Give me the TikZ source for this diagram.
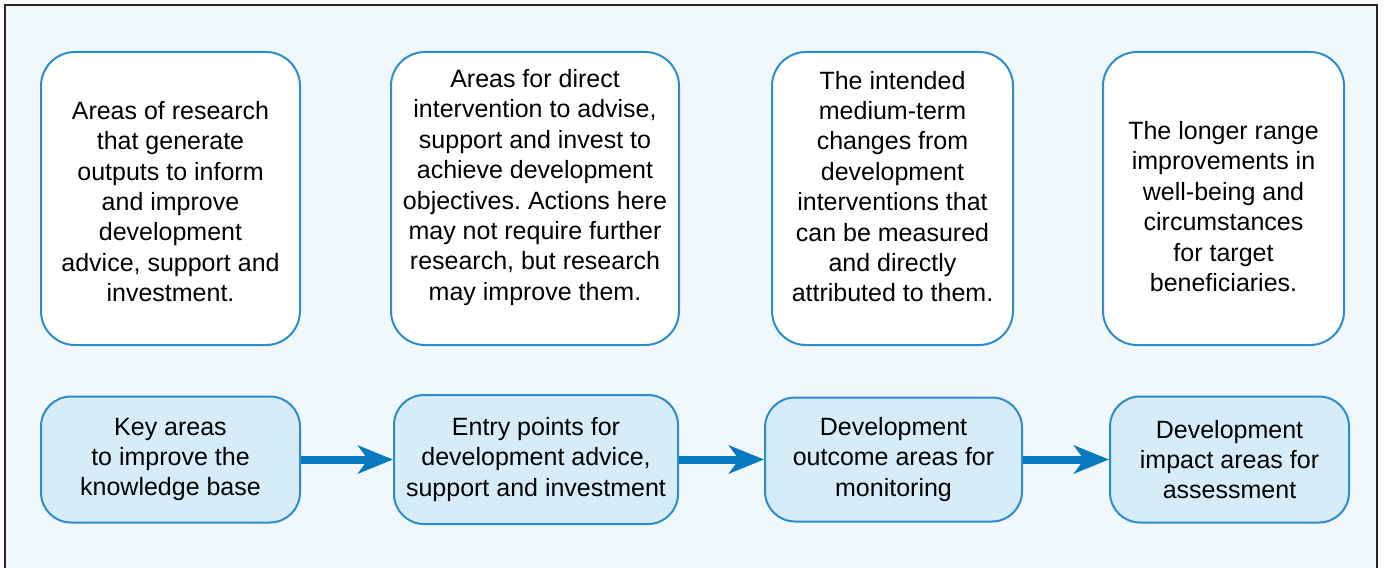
\documentclass[tikz,border=0pt]{standalone}
\usepackage{fontspec}
\setmainfont{Liberation Sans}
\frenchspacing
\usetikzlibrary{arrows.meta, positioning}

\definecolor{framebg}{RGB}{241,248,252}
\definecolor{boxline}{RGB}{44,141,206}
\definecolor{boxfill}{RGB}{214,236,249}
\definecolor{flowblue}{RGB}{6,122,191}

\begin{document}
\begin{tikzpicture}[
            x = 0.5pt, y = -0.5pt,
            > = {Stealth[length=17.5pt, width=14pt, inset=5pt]},
            node distance = 45pt,
            font = \fontsize{12.5}{15.2}\selectfont
        ]

        \tikzstyle{topbox}=[
            draw = boxline,
            line width = 1pt,
            fill = white,
            rounded corners = 17pt,
            align = center,
            inner sep = 0pt,
            minimum height = 146.5pt
        ]
        \tikzstyle{blurb}=[align = center, inner sep = 0pt]
        \tikzstyle{flowbox}=[
            topbox,
            fill = boxfill,
            rounded corners = 15pt,
            minimum height = 63pt
        ]
        \tikzstyle{flow}=[->, draw = flowblue, line width = 4pt]

        % frame
        \useasboundingbox (0,0) rectangle (1385,567);
        \fill[framebg] (5,5) rectangle (1377,590);
        \draw[line width=0.7pt, black!85] (5,590) -- (5,5) -- (1377,5) -- (1377,590);

        % upper row
        \node[topbox, minimum width=129.5pt,
            label={[blurb, yshift=-1.5pt]center:{Areas of research\\that generate\\outputs to inform\\and improve\\development\\advice, support and\\investment.}}]
            (research) at (170.5,198.5) {};
        \node[topbox, minimum width=144pt,
            label={[blurb, yshift=5.5pt]center:{Areas for direct\\intervention to advise,\\support and invest to\\achieve development\\objectives. Actions here\\may not require further\\research, but research\\may improve them.}}]
            (direct) [right=44.5pt of research] {};
        \node[topbox, minimum width=120.5pt,
            label={[blurb, yshift=6pt]center:{The intended\\medium-term\\changes from\\development\\interventions that\\can be measured\\and directly\\attributed to them.}}]
            (medium) [right=45.5pt of direct] {};
        \node[topbox, minimum width=120.5pt,
            label={[blurb, yshift=-4pt]center:{The longer range\\improvements in\\well-being and\\circumstances\\for target\\beneficiaries.}}]
            (longer) [right=44pt of medium] {};

        % lower row
        \node[flowbox, minimum width=129.5pt] (key) at (170.5,459.5) {Key areas\\to improve the\\knowledge base};
        \node[flowbox, minimum width=142pt, minimum height=64.5pt] (entry) [right=46pt of key] {Entry points for\\development advice,\\support and investment};
        \node[flowbox, minimum width=128.5pt, minimum height=62pt] (outcome) [right=42.5pt of entry] {Development\\outcome areas for\\monitoring};
        \node[flowbox, minimum width=119.5pt] (impact) [right=43pt of outcome] {Development\\impact areas for\\assessment};

        \draw[flow] (key) -- (entry);
        \draw[flow] (entry) -- (outcome);
        \draw[flow] (outcome) -- (impact);

    \end{tikzpicture}
\end{document}
